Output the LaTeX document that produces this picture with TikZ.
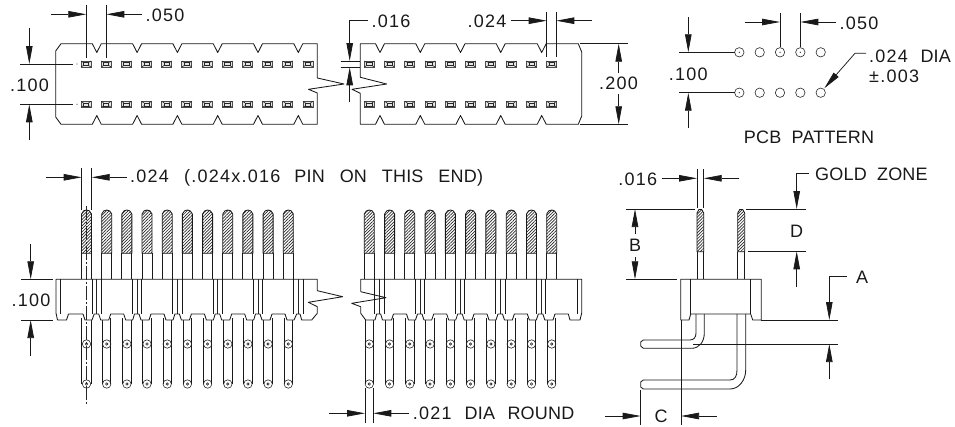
\documentclass[tikz,border=0pt]{standalone}
\usepackage{fontspec}
\setmainfont[LetterSpace=7]{Liberation Sans}
\usetikzlibrary{arrows.meta, patterns.meta}
\newcommand{\capsfont}{\addfontfeature{LetterSpace=1}}
\tikzset{
    part/.style={line width=0.85pt, black!90, line join=round},
    thin part/.style={line width=0.6pt, black!85},
    dim/.style={line width=0.75pt, black!90, -{Triangle[length=18pt,width=6.5pt]}},
    ext/.style={line width=0.75pt, black!90},
    label/.style={inner sep=0pt, font=\fontsize{18}{18}\selectfont, text=black!90},
    caps label/.style={label, font=\fontsize{18}{18}\selectfont\capsfont},
    goldzone/.style={pattern={Lines[angle=45,distance=2.2pt,line width=0.7pt]}, pattern color=black!85},
    pad/.pic={
        \draw[line width=0.9pt, black!70, fill=black!10] (-5, -3) rectangle (5, 3);
        \draw[thin part] (-2.6, -1.5) rectangle (2.6, 1.5);
        \draw[thin part] (-5, -3) -- (-2.6, -1.5) (5, -3) -- (2.6, -1.5) (-5, 3) -- (-2.6, 1.5) (5, 3) -- (2.6, 1.5);
    },
}

\begin{document}
\begin{tikzpicture}[x=1pt, y=-1pt]
    \useasboundingbox (0, 0) rectangle (955, 426);

    % plan view, left piece
    \draw[part] (317.3, 78) -- (317.3, 43.7)
        \foreach \c in {298.3, 258, 217.7, 177.4, 137.1, 96.8} {
            -- (\c+4.5, 43.7) -- (\c, 52.5) -- (\c-4.5, 43.7)}
        -- (61, 43.7) -- (55.7, 51) -- (55.7, 117) -- (61, 124.3)
        \foreach \c in {96.8, 137.1, 177.4, 217.7, 258, 298.3} {
            -- (\c-4.5, 124.3) -- (\c, 115.5) -- (\c+4.5, 124.3)}
        -- (317.3, 124.3) -- (317.3, 93) -- (308.5, 89.3) -- (344, 84) -- (317.3, 78);
    % plan view, right piece
    \draw[part] (360.3, 77.3) -- (360.3, 43.7)
        \foreach \c in {380, 420.3, 460.5, 500.7, 541.7} {
            -- (\c-4.5, 43.7) -- (\c, 52.5) -- (\c+4.5, 43.7)}
        -- (578.3, 43.7) -- (581.7, 52) -- (581.7, 116) -- (578.3, 124.3)
        \foreach \c in {541.7, 500.7, 460.5, 420.3, 380} {
            -- (\c+4.5, 124.3) -- (\c, 115.5) -- (\c-4.5, 124.3)}
        -- (360.3, 124.3) -- (360.3, 93.3) -- (352, 89.3) -- (386.7, 84) -- (360.3, 77.3);
    % pads
    \foreach \y in {64, 104.3} {
        \foreach \i in {0,...,11} {
            \pgfmathsetmacro\px{86+20.18*\i}
            \pic at (\px, \y) {pad};
        }
        \foreach \i in {0,...,9} {
            \pgfmathsetmacro\px{369.3+20.27*\i}
            \pic at (\px, \y) {pad};
        }
        \fill[black!70] (77, \y) circle (0.6);
    }

    % plan view dimensions
    \draw[ext] (86.3, 5) -- (86.3, 58);
    \draw[ext] (106.3, 5) -- (106.3, 58);
    \draw[dim] (50.7, 14.3) -- (86.3, 14.3);
    \draw[dim] (141.7, 14.3) -- (106.3, 14.3);
    \node[label, anchor=west] (pitchtop) at (145.5, 15) {.050};
    \draw[ext] (20, 64) -- (73, 64);
    \draw[ext] (20, 104.3) -- (73, 104.3);
    \draw[dim] (29.3, 28.3) -- (29.3, 64);
    \draw[dim] (29.3, 140) -- (29.3, 104.3);
    \node[label] (rowtop) at (29.5, 85) {.100};
    \draw[dim] (367.7, 20.3) -- (349.7, 20.3) -- (349.7, 61);
    \draw[dim] (349.7, 102.3) -- (349.7, 67.3);
    \draw[ext] (340.7, 61) -- (360.3, 61);
    \draw[ext] (340.7, 67.3) -- (360.3, 67.3);
    \node[label, anchor=west] (thicktop) at (371.5, 21) {.016};
    \draw[ext] (546.7, 11.7) -- (546.7, 57.3);
    \draw[ext] (556.3, 11.7) -- (556.3, 57.3);
    \draw[dim] (511, 20.7) -- (546.7, 20.7);
    \draw[dim] (591.7, 20.7) -- (556.3, 20.7);
    \node[label] (widthtop) at (487, 21) {.024};
    \draw[ext] (580, 43.7) -- (628.3, 43.7);
    \draw[ext] (580, 124.3) -- (628.3, 124.3);
    \draw[dim] (618.7, 73) -- (618.7, 43.7);
    \draw[dim] (618.7, 94) -- (618.7, 124.3);
    \node[label] (widthall) at (618.5, 83.5) {.200};

    % pcb pattern
    \foreach \y in {52.3, 92.7} {
        \foreach \px in {739.3, 759.7, 780, 800.3, 820.7} {
            \draw[thin part] (\px, \y) circle (4.7);
        }
        \fill[black!80] (739.3, \y) circle (0.7);
    }
    \fill[black!80] (780, 52.3) circle (0.7);
    \fill[black!80] (800.3, 52.3) circle (0.7);
    \draw[ext] (679.3, 52.3) -- (734.6, 52.3);
    \draw[ext] (679.3, 92.7) -- (734.6, 92.7);
    \draw[dim] (688.3, 17) -- (688.3, 52.3);
    \draw[dim] (688.3, 128) -- (688.3, 92.7);
    \node[label] (rowpcb) at (688.3, 74) {.100};
    \draw[ext] (780, 13.3) -- (780, 47);
    \draw[ext] (800.3, 13.3) -- (800.3, 47);
    \draw[dim] (744.7, 22) -- (780, 22);
    \draw[dim] (835.7, 22) -- (800.3, 22);
    \node[label, anchor=west] (pitchpcb) at (839.5, 23) {.050};
    \draw[dim] (866, 53.3) -- (855, 53.3) -- (824.3, 88.3);
    \node[label, anchor=west] (holedia) at (869, 56) {.024\ \ {\capsfont DIA}};
    \node[label, anchor=west] (holetol) at (869, 76) {±.003};
    \node[caps label] (pcbtitle) at (809, 137.5) {PCB\ \ PATTERN};

    % front view, pins above and below the body
    \foreach \px/\hw in {86.5/5, 106.7/4.2, 126.9/4.2, 147/4.2, 167.2/4.2, 187.4/4.2, 207.6/4.2, 227.8/4.2, 247.9/4.2, 268.1/4.2, 288.3/4.2,
                     369.3/4.2, 389.6/4.2, 409.8/4.2, 430.1/4.2, 450.4/4.2, 470.6/4.2, 490.9/4.2, 511.2/4.2, 531.5/4.2, 551.7/4.2} {
        \draw[part, goldzone] (\px-5, 253.3) -- (\px-5, 214) .. controls (\px-4, 211) and (\px-2, 210) .. (\px, 210)
            .. controls (\px+2, 210) and (\px+4, 211) .. (\px+5, 214) -- (\px+5, 253.3) -- cycle;
        \draw[part] (\px-5, 253.3) -- (\px-5, 279.3);
        \draw[part] (\px+5, 253.3) -- (\px+5, 279.3);
        \draw[part] (\px-\hw, 318) -- (\px-\hw, 384);
        \draw[part] (\px+\hw, 318) -- (\px+\hw, 384);
        \foreach \y in {344, 384} {
            \draw[thin part] (\px, \y) circle (4.2);
            \draw[thin part] (\px, \y) circle (1.2);
        }
    }

    % front view, body
    \draw[part, fill=white] (317.3, 290.7) -- (317.3, 279.3) -- (56, 279.3) -- (56, 313) -- (57.5, 320) -- (66.5, 320)
        -- (68.5, 314) -- (83, 314) -- (85, 320) -- (92, 320)
        \foreach \c in {96.7, 137, 177.4, 217.7, 258} {
            -- (\c-2.5, 314) -- (\c+2, 314) -- (\c+4, 320) -- (\c+12, 320) -- (\c+14, 314) -- (\c+27, 314) -- (\c+29, 320) -- (\c+36, 320)}
        -- (296.7, 314) -- (300, 314) -- (301.7, 320) -- (311.7, 320) -- (317.3, 313.3) -- (317.3, 306.7)
        -- (308.3, 302.3) -- (342.7, 296.7) -- (317.3, 290.7);
    \draw[part, fill=white] (360.7, 291.7) -- (360.7, 279.3) -- (581.7, 279.3) -- (581.7, 313) -- (580, 320) -- (570, 320)
        -- (568.3, 314) -- (555, 314) -- (553, 320)
        \foreach \c in {540.8, 500.5, 460.2, 420} {
            -- (\c+4, 320) -- (\c+2, 314) -- (\c-2.5, 314) -- (\c-4.5, 320) -- (\c-11.5, 320) -- (\c-13.5, 314) -- (\c-26.5, 314) -- (\c-28.5, 320)}
        -- (382.5, 320) -- (380.7, 314) -- (376.7, 314) -- (375, 320) -- (365.7, 320) -- (360.7, 313.3) -- (360.7, 306.7)
        -- (351.7, 303.3) -- (386, 297.7) -- (360.7, 291.7);
    \draw[part] (60.7, 279.3) -- (60.7, 314);
    \foreach \c in {96.7, 137, 177.4, 217.7, 258, 298.4, 379.5, 420, 460.2, 500.5, 540.8} {
        \draw[part] (\c-4.7, 279.3) -- (\c-4.7, 314);
        \draw[part] (\c+4.7, 279.3) -- (\c+4.7, 314);
        \draw[thin part] (\c, 279.3) -- (\c, 314);
    }
    \draw[part] (577, 279.3) -- (577, 314);
    % center line
    \draw[thin part, dash pattern=on 14pt off 2pt on 2pt off 2pt] (86.5, 206) -- (86.5, 405);

    % front view dimensions
    \draw[ext] (81.7, 168.3) -- (81.7, 210);
    \draw[ext] (91.7, 168.3) -- (91.7, 210);
    \draw[dim] (46, 177.3) -- (81.7, 177.3);
    \draw[dim] (126.7, 177.3) -- (91.7, 177.3);
    \node[label, anchor=west] (pinnote) at (130, 177.5) {.024\hspace{15pt}(.024x.016\hspace{14pt}{\capsfont PIN\hspace{15pt}ON\hspace{15pt}THIS\hspace{15pt}END)}};
    \draw[ext] (21.3, 279.3) -- (53.3, 279.3);
    \draw[ext] (21.3, 320) -- (53.3, 320);
    \draw[dim] (30.7, 244) -- (30.7, 279.3);
    \draw[dim] (30.7, 355.7) -- (30.7, 320);
    \node[label] (bodyheight) at (31, 300.7) {.100};
    \draw[ext] (365, 388) -- (365, 423);
    \draw[ext] (373.3, 388) -- (373.3, 423);
    \draw[dim] (329.3, 413.3) -- (365, 413.3);
    \draw[dim] (409.3, 413.3) -- (373.3, 413.3);
    \node[label, anchor=west] (rounddia) at (412.7, 413.5) {.021\hspace{13pt}{\capsfont DIA\hspace{12.5pt}ROUND}};

    % side view
    \foreach \pa/\pb in {697/703.7, 737.7/744.7} {
        \draw[part, goldzone] (\pa, 251.7) -- (\pa, 213) -- (\pa+2, 209.5) -- (\pb-2, 209.5) -- (\pb, 213) -- (\pb, 251.7) -- cycle;
        \draw[part] (\pa, 251.7) -- (\pa, 279.3);
        \draw[part] (\pb, 251.7) -- (\pb, 279.3);
    }
    \draw[part] (696, 314) -- (696, 333) .. controls (696, 337) and (694, 340) .. (690, 340) -- (643.3, 340)
        -- (640.7, 342) -- (640.7, 346) -- (643.3, 348.3) -- (691.7, 348.3) .. controls (699, 348.3) and (704.3, 342) .. (704.3, 333) -- (704.3, 314);
    \draw[part] (737, 314) -- (737, 370) .. controls (737, 376) and (735, 380) .. (730, 380) -- (643.3, 380)
        -- (640.7, 382) -- (640.7, 387) -- (643.3, 389) -- (730, 389) .. controls (739, 389) and (745.7, 380) .. (745.7, 370) -- (745.7, 314);
    \draw[part] (680.7, 320) -- (680.7, 279.3) -- (761.3, 279.3) -- (761.3, 320) -- (752.7, 320) -- (750.7, 314)
        -- (690.7, 314) -- (689, 320) -- cycle;
    \draw[part] (690.7, 279.3) -- (690.7, 314);
    \draw[part] (750.7, 279.3) -- (750.7, 314);

    % side view dimensions
    \draw[ext] (697, 169) -- (697, 208.3);
    \draw[ext] (703.7, 169) -- (703.7, 208.3);
    \draw[dim] (661.7, 178.3) -- (697, 178.3);
    \draw[dim] (739.3, 178.3) -- (703.7, 178.3);
    \node[label] (pinthick) at (637.7, 179) {.016};
    \draw[ext] (626, 209) -- (695, 209);
    \draw[ext] (626, 279.3) -- (677.3, 279.3);
    \draw[dim] (635, 234) -- (635, 209);
    \draw[dim] (635, 257) -- (635, 279.3);
    \node[caps label] (dimb) at (635, 245) {B};
    \draw[dim] (809, 173.3) -- (796.7, 173.3) -- (796.7, 209);
    \draw[ext] (745.7, 209) -- (806, 209);
    \draw[ext] (747.7, 251.3) -- (806, 251.3);
    \draw[dim] (796.7, 286.7) -- (796.7, 251.3);
    \node[caps label] (dimd) at (796.7, 231) {D};
    \node[caps label, anchor=west] (goldlabel) at (815, 174) {GOLD\ \ ZONE};
    \draw[dim] (846.7, 276.7) -- (829.3, 276.7) -- (829.3, 320);
    \draw[ext] (761.3, 320) -- (838.3, 320);
    \draw[ext] (693.3, 344) -- (838.3, 344);
    \draw[dim] (829.3, 379.3) -- (829.3, 344);
    \node[caps label, anchor=west] (dima) at (856, 277) {A};
    \draw[ext] (640.7, 390) -- (640.7, 425);
    \draw[ext] (681, 320) -- (681, 425);
    \draw[dim] (605, 416) -- (640.7, 416);
    \draw[dim] (716.7, 416) -- (681, 416);
    \node[caps label] (dimc) at (661, 416.7) {C};
\end{tikzpicture}
\end{document}
